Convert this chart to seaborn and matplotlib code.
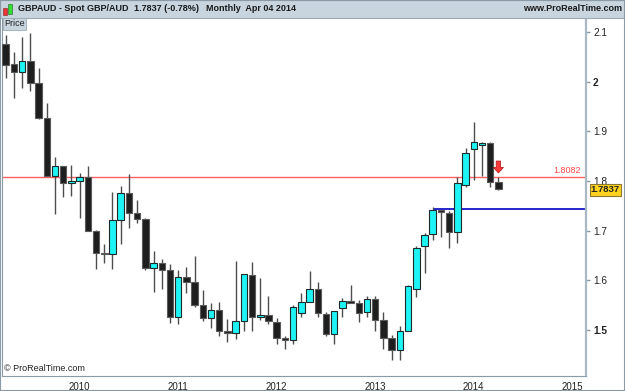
import matplotlib
matplotlib.use("Agg")
import numpy as np
import pandas as pd
import matplotlib.pyplot as plt
import matplotlib.patches as mpatches
import matplotlib.transforms as mtransforms
import seaborn as sns

# monthly GBP/AUD candles, Apr 2009 .. Apr 2014
months = ["2009-04", "2009-05", "2009-06", "2009-07", "2009-08", "2009-09", "2009-10", "2009-11", "2009-12",
          "2010-01", "2010-02", "2010-03", "2010-04", "2010-05", "2010-06", "2010-07", "2010-08", "2010-09",
          "2010-10", "2010-11", "2010-12",
          "2011-01", "2011-02", "2011-03", "2011-04", "2011-05", "2011-06", "2011-07", "2011-08", "2011-09",
          "2011-10", "2011-11", "2011-12",
          "2012-01", "2012-02", "2012-03", "2012-04", "2012-05", "2012-06", "2012-07", "2012-08", "2012-09",
          "2012-10", "2012-11", "2012-12",
          "2013-01", "2013-02", "2013-03", "2013-04", "2013-05", "2013-06", "2013-07", "2013-08", "2013-09",
          "2013-10", "2013-11", "2013-12",
          "2014-01", "2014-02", "2014-03", "2014-04"]
opens = [2.075, 2.035, 2.020, 2.041, 1.998, 1.926, 1.810, 1.829, 1.795,
         1.799, 1.807, 1.700, 1.654, 1.652, 1.721, 1.775, 1.735, 1.723, 1.625, 1.634, 1.621,
         1.527, 1.606, 1.597, 1.551, 1.524, 1.540, 1.497, 1.493, 1.519, 1.611, 1.526, 1.530,
         1.517, 1.484, 1.479, 1.534, 1.557, 1.582, 1.533, 1.491, 1.544, 1.558, 1.555, 1.536,
         1.562, 1.520, 1.484, 1.460, 1.498, 1.582, 1.669, 1.693, 1.741, 1.735, 1.697, 1.792,
         1.864, 1.872, 1.877, 1.797]
highs = [2.094, 2.060, 2.089, 2.097, 2.027, 1.957, 1.848, 1.830, 1.831,
         1.815, 1.829, 1.702, 1.674, 1.778, 1.790, 1.814, 1.762, 1.725, 1.658, 1.643, 1.632,
         1.621, 1.626, 1.649, 1.580, 1.554, 1.556, 1.522, 1.639, 1.613, 1.636, 1.605, 1.568,
         1.524, 1.488, 1.550, 1.574, 1.619, 1.596, 1.537, 1.538, 1.565, 1.591, 1.560, 1.568,
         1.568, 1.537, 1.490, 1.508, 1.591, 1.669, 1.696, 1.747, 1.741, 1.740, 1.807, 1.866,
         1.919, 1.879, 1.879, 1.807]
lows = [2.008, 1.967, 1.986, 1.981, 1.925, 1.809, 1.733, 1.768, 1.770,
        1.726, 1.699, 1.623, 1.634, 1.622, 1.673, 1.705, 1.715, 1.621, 1.576, 1.583, 1.515,
        1.513, 1.575, 1.547, 1.518, 1.503, 1.488, 1.475, 1.481, 1.498, 1.498, 1.520, 1.513,
        1.471, 1.461, 1.471, 1.527, 1.557, 1.527, 1.487, 1.471, 1.527, 1.554, 1.517, 1.527,
        1.497, 1.461, 1.440, 1.440, 1.498, 1.567, 1.614, 1.681, 1.687, 1.664, 1.676, 1.787,
        1.802, 1.810, 1.787, 1.781]
closes = [2.034, 2.020, 2.041, 1.998, 1.926, 1.810, 1.829, 1.795, 1.799,
          1.807, 1.700, 1.654, 1.652, 1.721, 1.775, 1.735, 1.723, 1.625, 1.634, 1.621, 1.527,
          1.606, 1.597, 1.551, 1.524, 1.540, 1.497, 1.493, 1.518, 1.613, 1.527, 1.530, 1.518,
          1.483, 1.479, 1.547, 1.557, 1.582, 1.534, 1.491, 1.538, 1.558, 1.555, 1.535, 1.562,
          1.520, 1.483, 1.460, 1.498, 1.589, 1.664, 1.691, 1.741, 1.737, 1.697, 1.796, 1.857,
          1.878, 1.876, 1.797, 1.7837]

resistance = 1.8082
support = 1.7425
support_start = "2013-08"
last_price = 1.7837
y_ticks = [1.5, 1.6, 1.7, 1.8, 1.9, 2.0, 2.1]
y_labels = ["1.5", "1.6", "1.7", "1.8", "1.9", "2", "2.1"]
years = [2010, 2011, 2012, 2013, 2014, 2015]

sns.set_style("white")
plt.rcParams['font.family'] = ['Liberation Sans', 'DejaVu Sans']

df = pd.DataFrame({'month': months, 'open': opens, 'high': highs, 'low': lows, 'close': closes})
d = pd.to_datetime(df['month'])
df['x'] = d.dt.year + (d.dt.month - 1) / 12
df['up'] = df['close'] >= df['open']
ss = pd.to_datetime(support_start)
support_x = ss.year + (ss.month - 1) / 12

W, H = 625, 391
fig = plt.figure(figsize=(W / 100, H / 100), dpi=100)


def px(x0, y0, x1, y1):
    return [x0 / W, 1 - y1 / H, (x1 - x0) / W, (y1 - y0) / H]


ax = fig.add_axes(px(2, 19, 586, 376))

# wicks then bodies
ax.vlines(df['x'], df['low'], df['high'], color='#4d4d4d', lw=1, zorder=2)
body_lo = np.minimum(df['open'], df['close'])
body_h = np.maximum(np.abs(df['close'] - df['open']), 0.002)
ax.bar(df['x'], body_h, bottom=body_lo, width=0.066,
       color=np.where(df['up'], '#1ef4f4', '#1e1e1e'),
       edgecolor=np.where(df['up'], '#1f2a2a', '#5a5a5a'), linewidth=0.8, zorder=3)

ax.axhline(resistance, color='#ff6060', lw=1, zorder=1)
ax.hlines(support, support_x, 2016, color='#1414c8', lw=1.3, zorder=1)

ax.set_xlim(2009.212, 2015.139)
ax.set_ylim(1.4074, 2.1258)

ax.yaxis.tick_right()
ax.set_yticks(y_ticks)
ax.set_yticklabels(y_labels)
for lab in ax.get_yticklabels():
    if lab.get_text() in ("2", "1.5"):
        lab.set_fontweight('bold')
ax.tick_params(axis='y', direction='out', length=3, pad=2, labelsize=7.3,
               colors='#8a9aa6', labelcolor='#222222', width=1)
ax.set_xticks(years)
ax.set_xticklabels([str(y) for y in years])
ax.tick_params(axis='x', direction='out', length=3, pad=1, labelsize=7,
               colors='#8a9aa6', labelcolor='#222222', width=1)

ax.spines['top'].set_visible(False)
ax.spines['left'].set_color('#8a9aa6')
ax.spines['bottom'].set_color('#8a9aa6')
ax.spines['right'].set_color('#a9b8c2')
ax.spines['right'].set_linewidth(1.6)

blend = mtransforms.blended_transform_factory(ax.transAxes, ax.transData)
ax.text(0.991, resistance + 0.003, f"{resistance:.4f}", transform=blend, ha='right', va='bottom',
        fontsize=6.5, color='#ff4a4a')
ax.text(1.008, last_price - 0.002, f"{last_price:.4f}", transform=blend, ha='left', va='center',
        fontsize=6.8, fontweight='bold', color='#222222', clip_on=False,
        bbox=dict(boxstyle='square,pad=0.12', fc='#ffd21f', ec='#8a7a30', lw=0.8))
ax.annotate("", xy=(df['x'].iloc[-1], 1.816), xytext=(df['x'].iloc[-1], 1.840),
            arrowprops=dict(arrowstyle="simple,head_length=0.5,head_width=0.9,tail_width=0.4",
                            mutation_scale=8, fc='#ff3a3a', ec='#b01010', lw=0.5, shrinkA=0, shrinkB=0))
ax.text(0.003, 0.008, "© ProRealTime.com", transform=ax.transAxes, ha='left', va='bottom',
        fontsize=6.5, color='#222222')

# header bar
fig.patches.append(mpatches.Rectangle((0, 1 - 18 / H), 1, 18 / H, transform=fig.transFigure,
                                      fc='#c8d5de', ec='#9aabb6', lw=0.8, zorder=0))
fig.patches.append(mpatches.Rectangle((3 / W, 1 - 15 / H), 4 / W, 7 / H, transform=fig.transFigure,
                                      fc='#ee3333', ec='#802020', lw=0.4))
fig.patches.append(mpatches.Rectangle((8 / W, 1 - 14 / H), 4 / W, 10 / H, transform=fig.transFigure,
                                      fc='#33dd33', ec='#206020', lw=0.4))
ty = 1 - 8.5 / H
fs = 6.5
fig.text(18 / W, ty, "GBPAUD - Spot GBP/AUD", fontsize=fs, fontweight='bold', va='center', color='#1a1a1a')
fig.text(134 / W, ty, "1.7837 (-0.78%)", fontsize=fs, fontweight='bold', va='center', color='#1a1a1a')
fig.text(206 / W, ty, "Monthly  Apr 04 2014", fontsize=fs, fontweight='bold', va='center', color='#1a1a1a')
fig.text(622 / W, ty, "www.ProRealTime.com", fontsize=fs, fontweight='bold', va='center', ha='right',
         color='#1a1a1a')
fig.text(4 / W, 1 - 24 / H, "Price", fontsize=6.5, va='center', color='#222222',
         bbox=dict(boxstyle='square,pad=0.15', fc='#c8d5de', ec='#9aabb6', lw=0.6))

fig.patches.append(mpatches.Rectangle((0, 0), 1, 1, transform=fig.transFigure, fill=False,
                                      ec='#8a9aa6', lw=1.5))

fig.savefig("out.png", dpi=100)
